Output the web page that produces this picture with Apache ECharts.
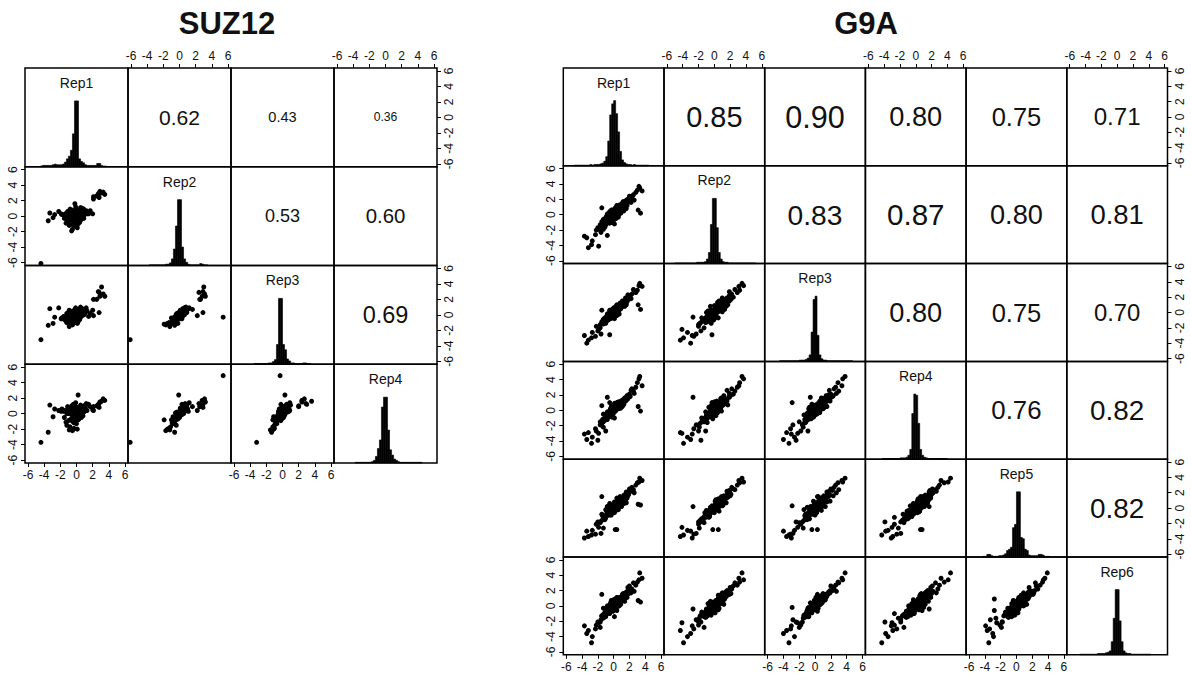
<!DOCTYPE html>
<html>
<head>
<meta charset="utf-8">
<title>SUZ12 / G9A replicate pairs</title>
<script src="https://cdn.jsdelivr.net/npm/echarts@6/dist/echarts.min.js"></script>
<style>
html, body { margin: 0; padding: 0; background: #fff; }
#main { width: 1191px; height: 682px; }
</style>
</head>
<body>
<div id="main"></div>
<script>
// tick labels used on every labelled axis
const tickValues = [-6, -4, -2, 0, 2, 4, 6];

// histogram bins: 48 bins of width 0.25 starting at -6
const binStart = -6;
const binWidth = 0.25;

// ---------- SUZ12 ----------
const suzNames = ['Rep1', 'Rep2', 'Rep3', 'Rep4'];
// upper triangle, row by row: (1,2) (1,3) (1,4) (2,3) (2,4) (3,4)
const suzCor = [0.62, 0.43, 0.36, 0.53, 0.60, 0.69];

const suzRep1 = [-0.2,0.3,-0.5,0.8,-1.0,0.1,-0.7,0.5,1.2,-1.4, 0.0,-0.3,0.6,-0.9,0.2,-0.1,1.0,-0.6,0.4,-1.2,
  0.7,-0.4,0.9,-0.8,0.3,-1.6,0.0,0.5,-0.2,1.3, -0.5,0.2,-1.1,0.6,-0.1,0.8,-0.7,0.1,-0.3,1.1,
  -0.9,0.4,-0.4,0.0,0.7,-1.3,0.3,-0.6,0.9,-0.2, 0.5,-1.0,0.2,-0.8,0.6,-0.5,0.1,-0.9,-0.6,-0.2, 0.2,
  -0.4,0.1,-0.8,0.4,-1.2,0.0,-0.3,0.6,-0.6,0.2, -1.5,0.9,-0.1,-0.5,0.3,-0.9,1.0,-0.2,0.5,-0.7, -1.8,0.1,-0.4,0.7,-0.1,
  -4.4, null, 3.1,2.9,3.5,2.5,2.8,3.3,2.1,2.7, 2.8,2.1,1.5,2.0,1.7, -3.3,-2.7,-3.5,-2.2,-1.9,-2.9];
const suzRep2 = [0.1,0.2,-0.3,0.5,-0.6,-0.2,0.4,-0.5,0.7,0.3, 0.9,-0.9,0.0,-0.1,0.6,-0.6,0.2,0.8,-0.8,-0.4,
  1.0,0.0,-0.3,-1.1,0.4,0.1,-0.4,0.8,0.5,0.3, -0.7,-1.0,0.6,0.1,1.2,-0.1,-0.2,0.3,-1.3,0.6,
  0.5,-0.2,0.7,-0.8,0.4,-0.9,0.0,0.2,0.9,-0.5, 1.1,0.0,-0.6,0.9,-0.4,-1.7,-1.5,-1.2,-1.9,1.6, -0.1,
  0.2,-0.3,-0.2,0.4,0.1,0.6,-0.5,0.3,-0.4,0.0, -0.3,0.1,0.3,0.5,-0.7,0.3,0.6,-0.2,0.2,0.0, 0.2,0.4,-0.8,-0.2,0.0,
  -6.1, 5.4, 3.0,3.2,2.8,2.6,2.4,3.1,2.5,2.9, 2.9,2.2,0.3,0.3,0.7, 0.4,0.2,-0.6,0.6,0.3,-0.2];
const suzRep3 = [0.0,0.4,-0.4,0.6,-0.7,0.1,0.2,-0.2,0.9,-0.3, 0.5,-0.8,0.3,-0.5,0.7,-0.3,0.1,0.4,-0.6,-1.0,
  0.8,0.1,0.0,-1.2,-0.1,-0.2,-0.6,1.0,0.3,0.5, -0.9,-0.4,0.0,0.6,0.9,0.2,-0.1,0.2,-1.0,0.4,
  0.6,-0.3,0.5,-0.7,0.3,-0.8,-0.5,0.0,0.7,-0.2, 0.8,-0.4,-0.9,0.3,0.1,-1.3,-1.1,-1.5,-1.2,0.7, 0.3,
  -0.1,0.2,-0.3,0.1,0.2,0.3,-0.5,0.4,-0.2,-0.2, -0.6,0.5,0.0,0.4,-0.4,-0.1,0.2,0.2,-0.3,0.1, -0.4,0.6,-0.6,-0.1,-0.4,
  -3.2, -0.3, 3.6,2.4,2.4,2.0,2.9,2.7,2.0,3.0, 0.3,-0.1,-0.2,0.6,0.2, 0.8,-0.3,-1.35,0.9,-0.5,-1.1];
const suzRep4 = [0.2,0.5,-0.2,0.9,-0.9,-0.3,0.6,0.1,1.3,0.4, 0.8,-1.2,-0.1,0.0,0.3,-0.6,0.5,1.0,-0.4,-1.5,
  0.6,-0.5,0.2,-1.7,0.7,0.3,-0.2,1.1,0.0,0.4, -1.0,-0.8,0.9,0.6,1.4,-0.3,-0.7,0.4,-1.9,0.8,
  0.2,0.0,1.2,-1.3,0.2,-1.1,-0.4,0.5,1.0,-0.9, 0.3,0.1,-0.6,0.7,-0.5,-2.2,-2.0,-2.1,-0.8,0.9, 2.4,
  0.3,-0.2,0.1,0.6,0.0,0.2,-0.4,0.3,-0.1,0.1, -0.5,0.7,-0.1,0.4,-0.7,0.5,0.3,0.0,-0.2,0.2, 0.6,0.8,-0.8,0.0,-0.3,
  -3.7, 4.9, 1.6,1.5,1.7,1.0,1.3,1.9,0.9,1.2, 0.8,0.4,1.2,0.5,0.9, 1.1,0.6,-2.4,0.4,0.3,-0.4];

// histogram heights (percent of tallest bin)
const suzHist1 = [0,0,0,0,0,0,1,2,2,2, 2,2,3,4,3,3,3,4,7,12, 16,25,50,100,100,12,8,6,3,2, 2,2,2,2,5,5,2,1,1,0, 0,0,0,0,0,0,0,0];
const suzHist2 = [0,0,0,0,0,0,0,0,0,1, 1,1,1,1,1,1,1,2,2,4, 10,25,60,100,100,28,10,5,2,1, 1,1,1,1,3,2,1,1,0,0, 0,0,0,0,0,0,0,0];
const suzHist3 = [0,0,0,0,0,0,0,0,0,0, 1,1,1,1,1,1,1,2,2,4, 7,30,100,100,30,22,8,5,2,2, 1,1,1,1,2,2,1,1,0,0, 0,0,0,0,0,0,0,0];
const suzHist4 = [0,0,0,0,0,0,0,0,0,1, 1,1,1,1,1,1,1,2,4,10, 22,35,85,100,100,50,20,12,6,4, 2,1,1,1,1,1,1,1,1,1, 1,1,0,0,0,0,0,0];

// ---------- G9A ----------
const g9aNames = ['Rep1', 'Rep2', 'Rep3', 'Rep4', 'Rep5', 'Rep6'];
const g9aCor = [0.85, 0.90, 0.80, 0.75, 0.71, 0.83, 0.87, 0.80, 0.81, 0.80, 0.75, 0.70, 0.76, 0.82, 0.82];

const g9aRep1 = [0.1,-0.3,0.6,0.9,-0.5,0.0,-0.2,1.2,-1.0,0.3, 0.2,-0.6,0.5,1.4,-1.1,0.4,0.0,0.8,-0.8,0.7,
  0.3,-0.4,0.9,-1.2,0.1,-0.1,0.4,1.6,-1.3,0.0, 0.5,-0.2,0.6,-0.7,1.1,0.1,0.3,-0.4,1.0,-0.7,
  0.8,-1.0,0.1,1.3,-0.5,0.2,-0.3,0.8,-0.8,0.2, 1.8,-1.5,0.4,0.0,0.7,1.9,-0.1,0.5,-0.9,-0.1,
  1.0,-1.4,0.5,-0.4,1.0,2.1,-1.7,0.3,0.6,-0.3, 0.9,-0.3,1.3,-0.8,0.4,1.6,-0.2,0.6,
  0.5,-0.4,0.2,1.0,-0.9,0.7,-0.1,1.4,-0.6,0.3, -1.3,0.8,-0.2,1.1,0.0,-0.5,0.6,-1.0,0.4,1.2,
  -0.3,0.9,-0.7,0.1,1.5,-1.1,0.5,-0.2,0.8,-0.5, 0.2,1.7,-0.8,0.4,-0.4,1.1,0.0,-1.5,0.6,-0.1,
  -3.7,-3.2,-2.8,-2.7,-2.3,-1.9,-2.2,-1.6,-3.4,-2.0,-1.3,-1.7,
  3.3,3.2,2.8,2.5,2.3,2.0,2.6,1.8,3.0,2.2,1.6,3.6,
  3.4,3.1,0.4,-1.5,0.1,-0.5,-0.8,-1.0,0.2];
const g9aRep2 = [0.3,-0.5,0.4,1.1,-0.8,0.2,0.1,1.0,-0.7,0.6, -0.2,-0.3,0.9,1.2,-1.4,0.1,-0.4,1.1,-0.5,0.5,
  0.0,-0.7,1.2,-0.9,0.4,0.1,0.7,1.4,-1.6,0.2, 0.2,-0.5,0.9,-1.0,1.4,-0.2,0.5,-0.1,0.7,-0.4,
  0.6,-1.3,0.3,1.6,-0.8,0.0,-0.6,1.0,-1.1,0.5, 1.6,-1.8,0.3,-0.3,1.0,2.1,-0.2,0.8,-0.6,0.1,
  1.3,-1.1,0.3,-0.7,0.8,1.9,-2.0,0.1,0.8,0.0, 0.2,0.6,0.5,0.1,1.2,0.8,-1.0,-0.3,
  -0.2,0.3,0.9,0.4,-0.2,0.1,-0.8,0.9,0.2,-0.5, -0.6,1.3,0.5,0.6,-0.7,0.4,0.0,-0.4,1.0,1.7,
  -1.0,0.3,-0.1,0.7,1.0,-1.6,0.2,0.6,0.5,-1.1, -0.4,1.2,-0.3,0.8,0.0,1.5,0.4,-0.9,1.1,-0.5,
  -2.8,-4.3,-3.9,-3.4,-2.6,-4.1,-2.0,-2.3,-3.0,-1.7,-1.9,-1.3,
  3.5,3.7,2.9,2.6,2.2,2.4,1.9,2.0,3.2,1.6,1.9,3.1,
  0.2,0.6,-0.2,0.9,-1.2,-0.3,-2.7,-1.1,0.5];
const g9aRep3 = [0.0,-0.2,0.7,0.6,-0.7,0.4,-0.3,1.3,-1.1,0.2, 0.1,-0.5,0.8,1.1,-1.0,0.5,-0.1,1.0,-0.9,0.4,
  0.2,-0.3,1.1,-0.8,0.3,-0.4,0.5,1.7,-1.2,-0.1, 0.3,-0.4,0.7,-0.6,1.3,0.0,0.6,-0.2,0.9,-0.6,
  0.5,-0.9,0.0,1.5,-0.7,0.3,-0.5,1.2,-1.0,0.4, 1.9,-1.4,0.6,0.1,0.9,1.7,-0.5,0.7,-0.8,0.2,
  1.2,-1.3,0.2,-0.5,0.7,2.2,-1.6,0.0,0.9,-0.1, 0.5,0.2,0.9,-0.4,0.7,1.0,-0.6,0.1,
  0.3,-0.6,0.6,1.3,-0.5,-0.2,0.2,0.8,-0.1,0.8, -0.9,0.4,-0.7,1.5,-0.3,0.3,0.9,-1.4,0.1,1.0,
  0.0,0.6,-1.0,0.5,1.9,-0.7,-0.1,0.4,1.1,-0.8, 0.0,1.4,-0.2,1.0,-0.8,0.8,0.6,-1.2,0.5,0.3,
  -3.0,-3.6,-3.3,-2.6,-3.1,-2.2,-1.8,-2.8,-4.0,-2.4,-1.5,-2.0,
  3.8,3.5,2.6,3.0,2.4,2.0,2.7,2.3,2.9,1.8,1.5,3.4,
  0.4,1.0,-0.4,0.3,-0.8,-2.9,-0.6,-0.9,0.3];
const g9aRep4 = [0.2,-0.4,0.3,0.8,-0.4,0.1,0.0,1.4,-0.8,0.5, -0.1,-0.2,0.6,1.5,-1.3,0.2,-0.3,0.7,-0.6,0.8,
  0.4,-0.6,0.8,-1.1,0.0,-0.2,0.8,1.3,-1.5,0.1, 0.6,-0.1,1.0,-0.9,1.0,-0.1,0.4,-0.5,1.1,-0.3,
  0.7,-1.2,0.4,1.2,-0.6,-0.1,-0.4,0.9,-1.2,0.3, 1.5,-1.7,0.7,-0.2,0.6,2.0,-0.3,0.4,-0.7,0.0,
  1.1,-1.2,0.6,-0.8,1.1,1.8,-1.9,0.2,0.5,-0.4, 0.3,0.5,0.8,-0.2,1.0,1.5,-0.9,0.2,
  0.8,0.1,-0.1,0.6,-1.1,0.5,-0.5,1.6,-0.7,0.2, -0.5,0.9,0.4,0.5,0.4,-0.3,1.1,-0.6,0.7,0.7,
  -0.6,1.2,-0.4,0.9,1.2,-1.0,0.3,0.0,0.3,-0.2, 0.6,1.9,-0.9,0.2,0.2,1.3,-0.3,-1.6,0.9,-0.4,
  -3.1,-2.9,-4.3,-3.5,-2.4,-3.0,-2.7,-1.9,-3.8,-3.9,-2.2,-1.5,
  4.4,4.1,3.0,2.5,2.8,2.1,2.2,1.9,3.6,2.6,1.7,3.2,
  -0.1,0.5,0.8,0.6,-1.0,1.0,1.7,-2.7,0.6];
const g9aRep5 = [-0.1,0.0,0.5,1.0,-0.9,0.3,-0.1,0.9,-1.2,0.7, 0.0,-0.4,0.4,1.6,-1.5,0.0,-0.2,1.2,-0.7,0.6,
  0.1,-0.8,1.3,-1.0,0.5,0.0,0.3,1.5,-1.4,0.3, 0.4,-0.3,0.8,-0.8,1.2,0.2,0.2,-0.3,0.6,-0.5,
  0.9,-1.1,0.2,1.7,-0.4,0.1,-0.7,1.1,-0.9,0.6, 1.7,-1.6,0.5,-0.1,0.8,1.8,-0.4,0.6,-1.0,-0.2,
  1.4,-1.0,0.4,-0.6,0.9,2.3,-1.8,0.4,0.7,-0.2, 1.1,-0.4,0.6,0.2,1.3,0.7,-0.3,-0.2,
  0.1,-0.2,0.5,0.2,-0.4,0.9,-0.6,1.0,0.3,-0.3, -1.1,1.5,0.0,0.8,-0.5,0.6,0.2,-0.2,0.3,1.4,
  -0.9,0.5,0.1,0.8,0.9,-1.4,0.6,0.3,1.2,-0.7, -0.1,1.3,-0.5,0.9,-0.6,0.7,0.2,-0.8,0.4,0.1,
  -3.9,-3.7,-3.5,-2.9,-3.4,-2.5,-2.1,-3.3,-3.0,-1.8,-2.6,-1.9,
  3.9,3.4,3.0,2.4,2.7,2.5,2.0,1.6,3.3,2.2,2.1,3.6,
  0.4,0.5,-2.8,1.5,-0.6,0.3,0.2,-1.2,-2.8];
const g9aRep6 = [0.2,-0.3,0.8,0.7,-0.6,0.0,0.2,1.1,-0.9,0.4, -0.3,-0.6,0.9,1.2,-1.2,0.6,-0.5,0.8,-1.0,0.3,
  0.3,-0.4,1.0,-1.3,0.2,-0.1,0.6,1.8,-1.1,0.0, 0.1,-0.6,0.5,-0.7,1.5,0.1,0.7,0.0,0.9,-0.8,
  0.6,-1.4,0.1,1.4,-0.9,0.4,-0.2,0.8,-0.7,0.1, 2.0,-1.3,0.4,0.0,1.1,1.6,-0.2,0.9,-0.5,0.1,
  0.9,-1.5,0.5,-0.3,1.2,2.0,-2.1,0.3,0.6,-0.1, 0.4,0.7,1.4,-0.9,0.2,1.1,-0.5,0.5,
  -0.1,0.4,0.3,0.8,-0.8,0.0,0.3,0.6,-0.4,0.6, -0.3,1.0,-0.5,1.3,0.2,0.1,0.4,-1.2,1.1,1.6,
  -0.4,0.2,-0.6,0.5,1.7,-0.8,0.7,-0.3,0.9,-1.0, 0.3,1.1,0.0,0.6,-0.2,1.2,0.8,-1.3,0.3,-0.7,
  -2.6,-3.2,-4.8,-4.0,-3.0,-2.2,-2.5,-1.8,-3.6,-2.1,-1.6,-2.8,
  4.3,3.4,2.7,3.0,2.2,2.6,1.9,2.4,3.1,1.7,1.5,3.6,
  0.5,0.7,-0.6,1.5,-1.4,-0.2,-0.4,-1.0,0.9];

const g9aHist1 = [0,0,0,0,1,1,1,1,1,1, 1,1,2,1,2,2,2,3,4,7, 14,38,78,95,100,80,52,22,9,5, 3,2,2,1,2,1,1,1,1,1, 1,1,0,0,0,0,0,0];
const g9aHist2 = [0,0,0,0,1,1,1,1,1,1, 1,1,1,1,1,2,2,2,2,3, 7,17,60,100,100,55,17,7,3,2, 2,1,1,1,1,1,1,1,1,1, 1,1,1,1,1,0,0,0];
const g9aHist3 = [0,0,0,0,0,0,1,1,1,1, 1,1,1,1,1,1,2,2,2,3, 5,10,45,95,100,40,10,4,2,2, 1,1,1,1,1,1,1,1,1,1, 1,1,1,0,0,0,0,0];
const g9aHist4 = [0,0,0,0,0,0,0,1,1,1, 1,1,1,1,1,1,2,2,2,3, 6,15,70,100,98,55,15,6,3,2, 1,1,1,1,1,1,1,1,1,1, 0,0,0,0,0,0,0,0];
const g9aHist5 = [0,0,0,0,0,0,0,1,1,4, 4,2,1,1,1,2,2,3,5,10, 12,15,45,50,100,100,30,28,12,10, 3,2,2,2,2,4,4,3,1,1, 1,0,0,0,0,0,0,0];
const g9aHist6 = [0,0,0,0,0,1,1,1,1,1, 1,1,1,1,2,2,2,2,3,4, 6,20,56,100,100,52,20,6,3,2, 2,1,1,1,1,1,1,1,1,1, 1,0,0,0,0,0,0,0];

// ---------- layout ----------
const AX = 6.37;
const FONT = '"Liberation Sans", Arial, Helvetica, sans-serif';
const INK = '#111';

let chart = echarts.init(document.getElementById('main'), null, { renderer: 'svg' });

function valueAxis(gi, pos, labelled, vertical) {
    return {
        gridIndex: gi,
        type: 'value',
        position: pos,
        min: -AX,
        max: AX,
        axisLine: { show: false, onZero: false },
        splitLine: { show: false },
        axisTick: {
            show: labelled, inside: false, length: 4,
            customValues: tickValues,
            lineStyle: { color: '#000', width: 1 }
        },
        axisLabel: {
            show: labelled, customValues: tickValues, margin: 6,
            fontSize: 12, color: INK, fontFamily: FONT,
            rotate: vertical ? 90 : 0
        }
    };
}

function renderBin(params, api) {
    let a = api.coord([api.value(0), api.value(2)]);
    let b = api.coord([api.value(1), 0]);
    return {
        type: 'rect',
        shape: { x: a[0], y: a[1], width: b[0] - a[0], height: b[1] - a[1] },
        style: { fill: '#000', stroke: '#000', lineWidth: 0.6 }
    };
}

function addMatrix(opt, m) {
    let n = m.reps.length;
    let c = 0;
    for (let i = 0; i < n; i++) {
        for (let j = 0; j < n; j++) {
            let gi = opt.grid.length;
            opt.grid.push({
                left: m.left + j * m.cw, top: m.top + i * m.ch,
                width: m.cw, height: m.ch,
                show: true, borderColor: '#000', borderWidth: 1.5,
                backgroundColor: 'transparent'
            });
            let showTop = i === 0 && j % 2 === 1;
            let showBottom = i === n - 1 && j % 2 === 0;
            let showLeft = j === 0 && i % 2 === 1;
            let showRight = j === n - 1 && i % 2 === 0;
            opt.xAxis.push(valueAxis(gi, showTop ? 'top' : 'bottom', showTop || showBottom, false));
            if (i === j) {
                // histogram panel with the replicate name
                opt.yAxis.push({ gridIndex: gi, type: 'value', min: 0, max: 150, show: false });
                opt.series.push({
                    type: 'custom', xAxisIndex: gi, yAxisIndex: gi,
                    renderItem: renderBin, encode: { x: [0, 1], y: 2 },
                    data: m.hists[i].map((h, k) => [binStart + k * binWidth, binStart + (k + 1) * binWidth, h])
                        .filter(d => d[2] > 0)
                });
                opt.series.push({
                    type: 'scatter', xAxisIndex: gi, yAxisIndex: gi,
                    symbolSize: 0, data: [[0, 127.5]],
                    itemStyle: { opacity: 1 },
                    label: { show: true, position: 'inside', formatter: m.names[i], fontSize: 14, color: INK, fontFamily: FONT }
                });
            } else {
                opt.yAxis.push(valueAxis(gi, showRight ? 'right' : 'left', showLeft || showRight, true));
                if (i > j) {
                    let xs = m.reps[j], ys = m.reps[i];
                    let pts = [];
                    xs.forEach((x, k) => {
                        if (x !== null && ys[k] !== null) pts.push([x, ys[k]]);
                    });
                    opt.series.push({
                        type: 'scatter', xAxisIndex: gi, yAxisIndex: gi,
                        symbol: 'circle', symbolSize: 5,
                        itemStyle: { color: '#000', opacity: 1 },
                        data: pts
                    });
                } else {
                    let r = m.cor[c++];
                    opt.series.push({
                        type: 'scatter', xAxisIndex: gi, yAxisIndex: gi,
                        symbolSize: 0, data: [[0, 0]],
                        itemStyle: { opacity: 1 },
                        label: {
                            show: true, position: 'inside', formatter: r.toFixed(2),
                            fontSize: Math.round(34 * r * 10) / 10, color: INK, fontFamily: FONT
                        }
                    });
                }
            }
        }
    }
}

let option = {
    backgroundColor: '#fff',
    animation: false,
    grid: [], xAxis: [], yAxis: [], series: [],
    graphic: [
        { type: 'text', x: 227, y: 23, style: { text: 'SUZ12', font: 'bold 31px ' + FONT, fill: INK, textAlign: 'center', textVerticalAlign: 'middle', verticalAlign: 'middle' } },
        { type: 'text', x: 866, y: 23, style: { text: 'G9A', font: 'bold 31px ' + FONT, fill: INK, textAlign: 'center', textVerticalAlign: 'middle', verticalAlign: 'middle' } }
    ]
};

addMatrix(option, {
    left: 25, top: 68, cw: 103, ch: 98.75,
    names: suzNames, cor: suzCor,
    reps: [suzRep1, suzRep2, suzRep3, suzRep4],
    hists: [suzHist1, suzHist2, suzHist3, suzHist4]
});
addMatrix(option, {
    left: 563.3, top: 68, cw: 100.7, ch: 97.8,
    names: g9aNames, cor: g9aCor,
    reps: [g9aRep1, g9aRep2, g9aRep3, g9aRep4, g9aRep5, g9aRep6],
    hists: [g9aHist1, g9aHist2, g9aHist3, g9aHist4, g9aHist5, g9aHist6]
});

option.series.forEach(s => { s.silent = true; s.animation = false; });
chart.setOption(option);
window.addEventListener('resize', function () { chart.resize(); });
</script>
</body>
</html>
